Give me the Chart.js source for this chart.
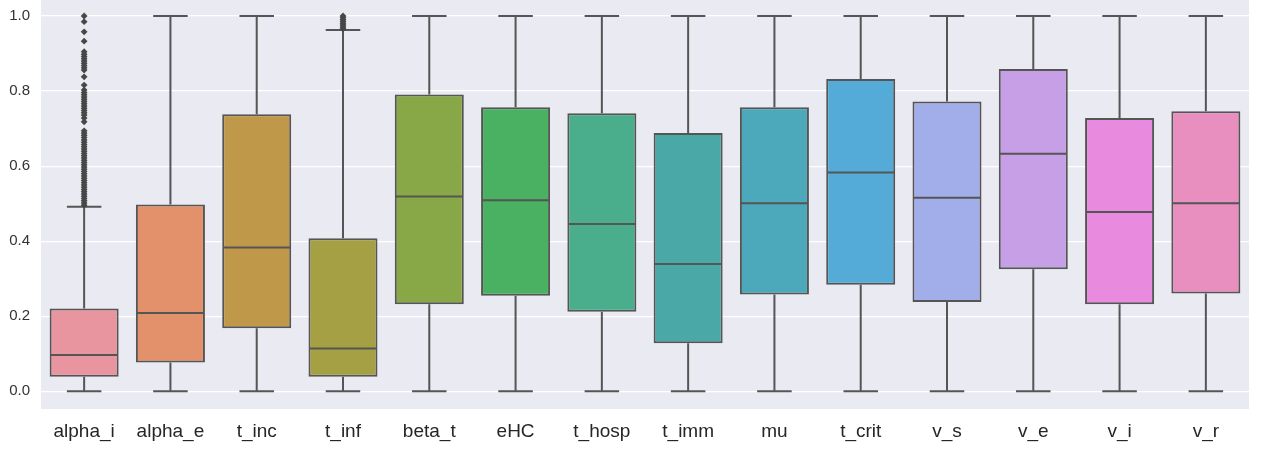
<!DOCTYPE html>
<html>
<head>
<meta charset="utf-8">
<script src="https://cdn.jsdelivr.net/npm/chart.js@4"></script>
<style>
  html, body { margin: 0; padding: 0; background: #ffffff; }
  #wrap { width: 1267px; height: 450px; position: relative; }
</style>
</head>
<body>
<div id="wrap"><canvas id="chart"></canvas></div>
<script>
// Parameter distributions, one box per parameter
const categories = ['alpha_i', 'alpha_e', 't_inc', 't_inf', 'beta_t', 'eHC', 't_hosp',
                    't_imm', 'mu', 't_crit', 'v_s', 'v_e', 'v_i', 'v_r'];
const whiskerLow  = [0, 0, 0, 0, 0, 0, 0, 0, 0, 0, 0, 0, 0, 0];
const q1          = [0.039, 0.077, 0.168, 0.039, 0.232, 0.255, 0.212, 0.128, 0.258, 0.284, 0.238, 0.325, 0.232, 0.261];
const median      = [0.097, 0.209, 0.383, 0.114, 0.519, 0.509, 0.446, 0.339, 0.501, 0.583, 0.516, 0.633, 0.478, 0.501];
const q3          = [0.221, 0.498, 0.738, 0.408, 0.791, 0.757, 0.741, 0.688, 0.757, 0.832, 0.772, 0.859, 0.728, 0.746];
const whiskerHigh = [0.492, 1, 1, 0.963, 1, 1, 1, 1, 1, 1, 1, 1, 1, 1];

// Points beyond the upper whisker
const alphaIOutliers = [0.496, 0.502, 0.508, 0.514, 0.520, 0.526, 0.532, 0.538, 0.544, 0.550,
                        0.556, 0.562, 0.568, 0.574, 0.580, 0.586, 0.592, 0.598, 0.604, 0.610,
                        0.616, 0.622, 0.628, 0.634, 0.640, 0.646, 0.652, 0.658, 0.664, 0.670,
                        0.676, 0.682, 0.688, 0.694, 0.718, 0.728, 0.736, 0.742, 0.748, 0.754,
                        0.760, 0.766, 0.772, 0.778, 0.784, 0.790, 0.796, 0.803, 0.816, 0.838,
                        0.856, 0.862, 0.868, 0.874, 0.880, 0.886, 0.892, 0.898, 0.905, 0.933,
                        0.958, 0.985, 1.0];
const tInfOutliers = [0.966, 0.971, 0.976, 0.981, 0.986, 0.991, 0.996, 1.0];

const yTicks = [0, 0.2, 0.4, 0.6, 0.8, 1.0];

const boxColors = ['#e9959f', '#e2916a', '#c0984a', '#a6a044', '#88a847', '#4ab062',
                   '#4aae8c', '#4aa9a6', '#4ba9bb', '#54abd7', '#a1aee9', '#c69fe7',
                   '#e88ade', '#e98fbf'];
const lineGray = '#555555';

const outlierPoints = [
  ...alphaIOutliers.map(v => ({ x: 'alpha_i', y: v, r: 3.4 })),
  ...tInfOutliers.map(v => ({ x: 't_inf', y: v, r: 3.4 }))
];

// Grey plotting area behind everything, running up to the top edge
const plotBackground = {
  id: 'plotBackground',
  beforeDraw(chart) {
    const { ctx, chartArea: a } = chart;
    ctx.save();
    ctx.fillStyle = '#eaeaf2';
    ctx.fillRect(a.left, 0, a.right - a.left, a.bottom);
    ctx.restore();
  }
};

// Whiskers with caps (under the boxes) and median lines (over the boxes)
const boxParts = {
  id: 'boxParts',
  beforeDatasetsDraw(chart) {
    const meta = chart.getDatasetMeta(0);
    const y = chart.scales.y;
    const ctx = chart.ctx;
    ctx.save();
    ctx.strokeStyle = lineGray;
    ctx.lineWidth = 2;
    meta.data.forEach((bar, i) => {
      const cx = bar.x;
      const half = bar.width / 4;
      const yLo = y.getPixelForValue(whiskerLow[i]);
      const yHi = y.getPixelForValue(whiskerHigh[i]);
      ctx.beginPath();
      ctx.moveTo(cx, y.getPixelForValue(q1[i]));
      ctx.lineTo(cx, yLo);
      ctx.moveTo(cx, y.getPixelForValue(q3[i]));
      ctx.lineTo(cx, yHi);
      ctx.moveTo(cx - half, yLo);
      ctx.lineTo(cx + half, yLo);
      ctx.moveTo(cx - half, yHi);
      ctx.lineTo(cx + half, yHi);
      ctx.stroke();
    });
    ctx.restore();
  },
  afterDatasetsDraw(chart) {
    const meta = chart.getDatasetMeta(0);
    const y = chart.scales.y;
    const ctx = chart.ctx;
    ctx.save();
    ctx.strokeStyle = lineGray;
    ctx.lineWidth = 2;
    meta.data.forEach((bar, i) => {
      const ym = y.getPixelForValue(median[i]);
      ctx.beginPath();
      ctx.moveTo(bar.x - bar.width / 2 + 1, ym);
      ctx.lineTo(bar.x + bar.width / 2 - 1, ym);
      ctx.stroke();
    });
    ctx.restore();
  }
};

new Chart(document.getElementById('chart'), {
  type: 'bar',
  data: {
    labels: categories,
    datasets: [
      {
        type: 'bar',
        data: categories.map((c, i) => [q1[i], q3[i]]),
        backgroundColor: boxColors,
        borderColor: lineGray,
        borderWidth: 2,
        borderSkipped: false,
        barPercentage: 0.8,
        categoryPercentage: 1.0,
        order: 2
      },
      {
        type: 'bubble',
        data: outlierPoints,
        pointStyle: 'rectRot',
        backgroundColor: '#474747',
        borderColor: '#474747',
        borderWidth: 0,
        clip: false,
        order: 1
      }
    ]
  },
  options: {
    responsive: true,
    maintainAspectRatio: false,
    animation: false,
    events: [],
    layout: { padding: { top: 0, right: 18, bottom: 0, left: 0 } },
    plugins: { legend: { display: false }, tooltip: { enabled: false } },
    scales: {
      x: {
        type: 'category',
        grid: { display: false, drawTicks: false },
        border: { display: false },
        ticks: {
          color: '#262626',
          padding: 11,
          maxRotation: 0,
          font: { family: 'Liberation Sans, Arial, sans-serif', size: 19 }
        },
        afterFit(scale) { scale.height = 41; scale.paddingLeft = 0; scale.paddingRight = 0; }
      },
      y: {
        min: -0.047,
        max: 1.032,
        grid: { color: '#ffffff', lineWidth: 1.3, drawTicks: false },
        border: { display: false },
        afterBuildTicks(axis) { axis.ticks = yTicks.map(v => ({ value: v })); },
        ticks: {
          color: '#333333',
          padding: 11,
          font: { family: 'Liberation Sans, Arial, sans-serif', size: 15 },
          callback: v => Number(v).toFixed(1)
        },
        afterFit(scale) { scale.width = 41; scale.paddingTop = 0; scale.paddingBottom = 0; }
      }
    }
  },
  plugins: [plotBackground, boxParts]
});
</script>
</body>
</html>
